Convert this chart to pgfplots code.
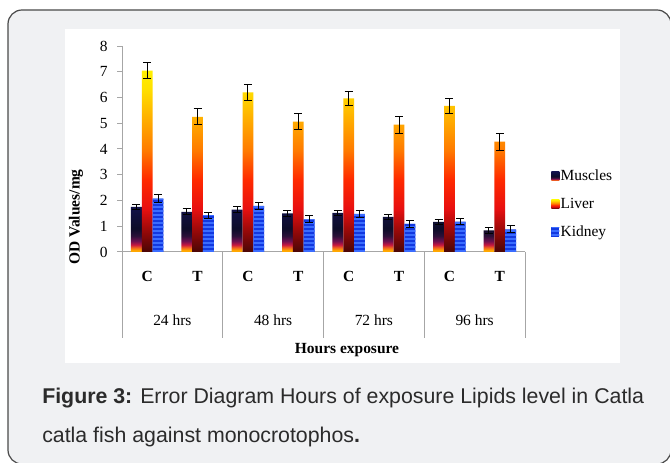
\documentclass[border=0pt]{standalone}
\usepackage{fontspec}
\setmainfont{Liberation Serif}
\newfontfamily\capfont{Liberation Sans}
\usepackage{pgfplots}
\pgfplotsset{compat=1.18}
\usetikzlibrary{patterns.meta}
\definecolor{bg}{HTML}{F0F1F3}
\definecolor{framec}{HTML}{4A4A4A}
\definecolor{axgray}{HTML}{A6A6A6}
\definecolor{kidblue}{HTML}{1238E0}
\definecolor{kidlight}{HTML}{3A6CFF}
\definecolor{captxt}{HTML}{2B2B2B}
\definecolor{MA}{HTML}{FFA800}
\definecolor{MB}{HTML}{F06020}
\definecolor{MC}{HTML}{C81840}
\definecolor{MD}{HTML}{701050}
\definecolor{ME}{HTML}{2A1038}
\definecolor{MF}{HTML}{0C0C28}
\definecolor{MG}{HTML}{12124A}
\definecolor{LA}{HTML}{4A0606}
\definecolor{LB}{HTML}{8C0808}
\definecolor{LC}{HTML}{E81010}
\definecolor{LD}{HTML}{FF2A00}
\definecolor{LE}{HTML}{FF7A00}
\definecolor{LF}{HTML}{FFB000}
\definecolor{LG}{HTML}{FFE000}
\definecolor{LH}{HTML}{FFF000}
\pgfdeclareverticalshading{muscles}{100bp}{color(0bp)=(MA); color(25bp)=(MA); color(27bp)=(MA); color(30bp)=(MB); color(33bp)=(MC); color(37bp)=(MD); color(43bp)=(ME); color(51bp)=(MF); color(75bp)=(MG); color(100bp)=(MG)}
\pgfdeclareverticalshading{liver}{100bp}{color(0bp)=(LA); color(25bp)=(LA); color(30bp)=(LB); color(37bp)=(LC); color(45bp)=(LD); color(53bp)=(LE); color(62bp)=(LF); color(70bp)=(LG); color(75bp)=(LH); color(100bp)=(LH)}
\newcommand\chartfont{\fontsize{11.6}{14}\selectfont}
\begin{document}
\begin{tikzpicture}[x=0.75pt,y=0.75pt]
\clip (0,0) rectangle (670,463);
\fill[white] (0,0) rectangle (670,463);
\draw[framec, line width=0.9pt, fill=bg, rounded corners=10.5pt] (8,453) rectangle (671,-1);
\fill[white] (65,434) rectangle (620,100);
\begin{axis}[
  at={(91.5pt,158.25pt)}, anchor=south west,
  scale only axis, width=302.25pt, height=154.5pt,
  xmin=0, xmax=8, ymin=0, ymax=8,
  clip=false,
  axis x line=bottom, axis y line=left,
  axis line style={-, draw=axgray, line width=0.75pt},
  ytick={0,1,...,8},
  xtick={0.5,1.5,...,7.5},
  xticklabels={C,T,C,T,C,T,C,T},
  /pgf/number format/assume math mode=true,
  x tick label style={font=\chartfont\bfseries, anchor=center, yshift=-14.25pt},
  y tick label style={font=\chartfont, xshift=-3.6pt},
  tick align=outside,
  major tick length=3.75pt,
  x tick style={draw=none},
  y tick style={draw=axgray, line width=0.75pt},
  ybar=0pt, bar width=0.215,
  error bars/error bar style={draw=black, line width=0.75pt},
  error bars/error mark options={draw=black, rotate=90, mark size=3pt, line width=0.75pt},
  legend style={at={(1.0645,0.232)}, anchor=west, draw=none, fill=none, inner sep=0pt,
    font=\chartfont, row sep=9.5pt, nodes={inner sep=1pt}},
  legend cell align=left,
  legend image code/.code={\path[#1] (0pt,-3.4pt) rectangle (6pt,3.4pt);},
]
\addplot[draw=none, shade, shading=muscles,
  error bars/.cd, y dir=both, y explicit] coordinates {
  (0.5,1.75) +- (0,0.09)
  (1.5,1.56) +- (0,0.12)
  (2.5,1.65) +- (0,0.13)
  (3.5,1.50) +- (0,0.13)
  (4.5,1.52) +- (0,0.09)
  (5.5,1.36) +- (0,0.09)
  (6.5,1.17) +- (0,0.09)
  (7.5,0.84) +- (0,0.13)
};
\addlegendentry{Muscles}
\addplot[draw=none, shade, shading=liver,
  error bars/.cd, y dir=both, y explicit] coordinates {
  (0.5,7.04) +- (0,0.32)
  (1.5,5.25) +- (0,0.31)
  (2.5,6.20) +- (0,0.30)
  (3.5,5.06) +- (0,0.32)
  (4.5,5.97) +- (0,0.28)
  (5.5,4.95) +- (0,0.33)
  (6.5,5.67) +- (0,0.28)
  (7.5,4.29) +- (0,0.33)
};
\addlegendentry{Liver}
\addplot[draw=none, fill=kidblue, postaction={pattern={Lines[angle=0,distance=3pt,line width=1.1pt]}, pattern color=kidlight},
  error bars/.cd, y dir=both, y explicit] coordinates {
  (0.5,2.07) +- (0,0.15)
  (1.5,1.43) +- (0,0.12)
  (2.5,1.79) +- (0,0.13)
  (3.5,1.27) +- (0,0.13)
  (4.5,1.48) +- (0,0.13)
  (5.5,1.09) +- (0,0.13)
  (6.5,1.18) +- (0,0.13)
  (7.5,0.88) +- (0,0.14)
};
\addlegendentry{Kidney}
\draw[axgray, line width=0.75pt] (axis cs:0,0) -- ++(0pt,-64.5pt);
\draw[axgray, line width=0.75pt] (axis cs:2,0) -- ++(0pt,-64.5pt);
\draw[axgray, line width=0.75pt] (axis cs:4,0) -- ++(0pt,-64.5pt);
\draw[axgray, line width=0.75pt] (axis cs:6,0) -- ++(0pt,-64.5pt);
\draw[axgray, line width=0.75pt] (axis cs:8,0) -- ++(0pt,-64.5pt);
\node[font=\chartfont] at (axis cs:1,0) [yshift=-51pt] {24 hrs};
\node[font=\chartfont] at (axis cs:3,0) [yshift=-51pt] {48 hrs};
\node[font=\chartfont] at (axis cs:5,0) [yshift=-51pt] {72 hrs};
\node[font=\chartfont] at (axis cs:7,0) [yshift=-51pt] {96 hrs};
\end{axis}
\node[font=\chartfont\bfseries] at (347,113) {Hours exposure};
\node[font=\chartfont\bfseries, rotate=90] at (76,246) {OD Values/mg};
\node[anchor=base west, inner sep=0pt, font=\capfont\fontsize{16}{19}\selectfont, text=captxt] at (42,59) {\textbf{Figure 3:} Error Diagram Hours of exposure Lipids level in Catla};
\node[anchor=base west, inner sep=0pt, font=\capfont\fontsize{16}{19}\selectfont, text=captxt] at (42,20) {catla fish against monocrotophos\textbf{.}};
\end{tikzpicture}
\end{document}
